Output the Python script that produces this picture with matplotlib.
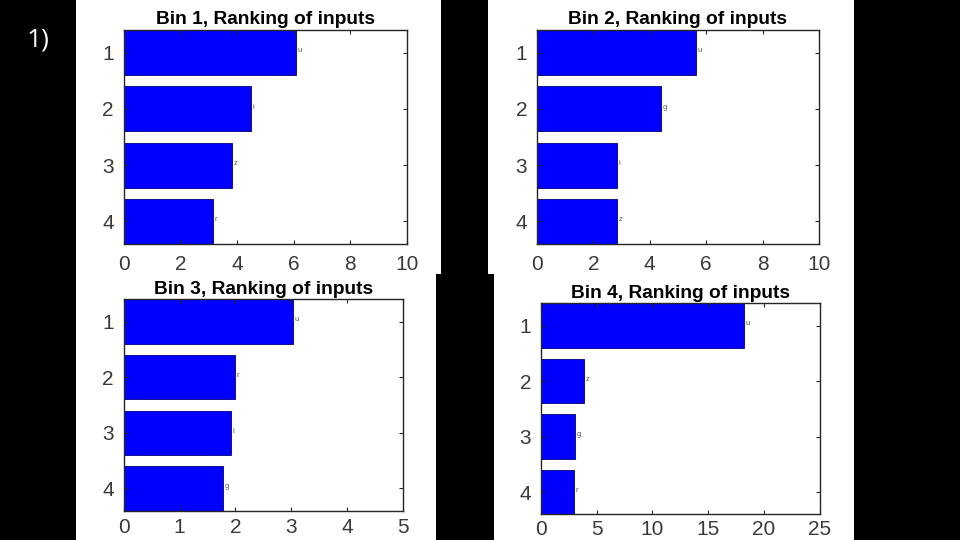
import matplotlib
matplotlib.use("Agg")
import matplotlib.pyplot as plt
from matplotlib.patches import Rectangle

titles = ["Bin 1, Ranking of inputs", "Bin 2, Ranking of inputs",
          "Bin 3, Ranking of inputs", "Bin 4, Ranking of inputs"]
ranks = [1, 2, 3, 4]
values_bin1 = [6.07, 4.50, 3.81, 3.16]
values_bin2 = [5.63, 4.41, 2.83, 2.83]
values_bin3 = [3.03, 2.00, 1.92, 1.78]
values_bin4 = [18.2, 3.83, 3.08, 2.96]
labels_bin1 = ["u", "i", "z", "r"]
labels_bin2 = ["u", "g", "i", "z"]
labels_bin3 = ["u", "r", "i", "g"]
labels_bin4 = ["u", "z", "g", "r"]
xmax = [10, 10, 5, 25]
xticks = [[0, 2, 4, 6, 8, 10], [0, 2, 4, 6, 8, 10], [0, 1, 2, 3, 4, 5],
          [0, 5, 10, 15, 20, 25]]

W, H = 960, 540
fig = plt.figure(figsize=(9.6, 5.4), dpi=100, facecolor="black")

def fx(x):
    return x / W

def fy(y):
    return 1 - y / H

# white panel backgrounds (pixel boxes: left, top, right, bottom)
panels = [(76, 0, 441, 274), (488, 0, 854, 274), (76, 274, 436, 540), (494, 274, 854, 540)]
for l, t, r, b in panels:
    fig.patches.append(Rectangle((fx(l), fy(b)), fx(r) - fx(l), fy(t) - fy(b),
                                 transform=fig.transFigure, facecolor="white",
                                 edgecolor="none", zorder=-10))

axes_px = [(123.7, 30, 407, 244), (537, 30, 819, 244),
           (123.7, 299.3, 402.7, 510.7), (541, 303.3, 819.7, 514.3)]
xpads = [8, 8, 5.5, 4]
values = [values_bin1, values_bin2, values_bin3, values_bin4]
labels = [labels_bin1, labels_bin2, labels_bin3, labels_bin4]

dark = "#3a3a3a"
for i in range(4):
    l, t, r, b = axes_px[i]
    ax = fig.add_axes([fx(l), fy(b), fx(r) - fx(l), fy(t) - fy(b)], zorder=1)
    ax.barh(ranks, values[i], height=0.8, color="#0000ff", edgecolor="#00007a",
            linewidth=0.6)
    for rk, v, lab in zip(ranks, values[i], labels[i]):
        ax.text(v + xmax[i] * 0.006, rk - 0.03, lab, fontsize=5.5, color="#555555",
                va="center", ha="left", family="Liberation Sans")
    ax.set_xlim(0, xmax[i])
    ax.set_ylim(4.4, 0.6)
    ax.set_xticks(xticks[i])
    ax.set_yticks(ranks)
    for s in ax.spines.values():
        s.set_color("#262626")
        s.set_linewidth(1.0)
    ax.tick_params(direction="in", length=3, width=0.8, color="#262626",
                   top=True, right=True, labelsize=15, labelcolor=dark)
    ax.tick_params(axis="x", pad=xpads[i])
    ax.tick_params(axis="y", pad=7)
    for lbl in ax.get_xticklabels() + ax.get_yticklabels():
        lbl.set_family("Liberation Sans")
    ax.set_title(titles[i], fontsize=13.8, fontweight="bold", color="black",
                 family="Liberation Sans", pad=4)

fig.text(fx(38), fy(40), "1)", color="white", fontsize=19, ha="center",
         va="center", family="Open Sans")

fig.savefig("out.png", dpi=100, facecolor="black")
